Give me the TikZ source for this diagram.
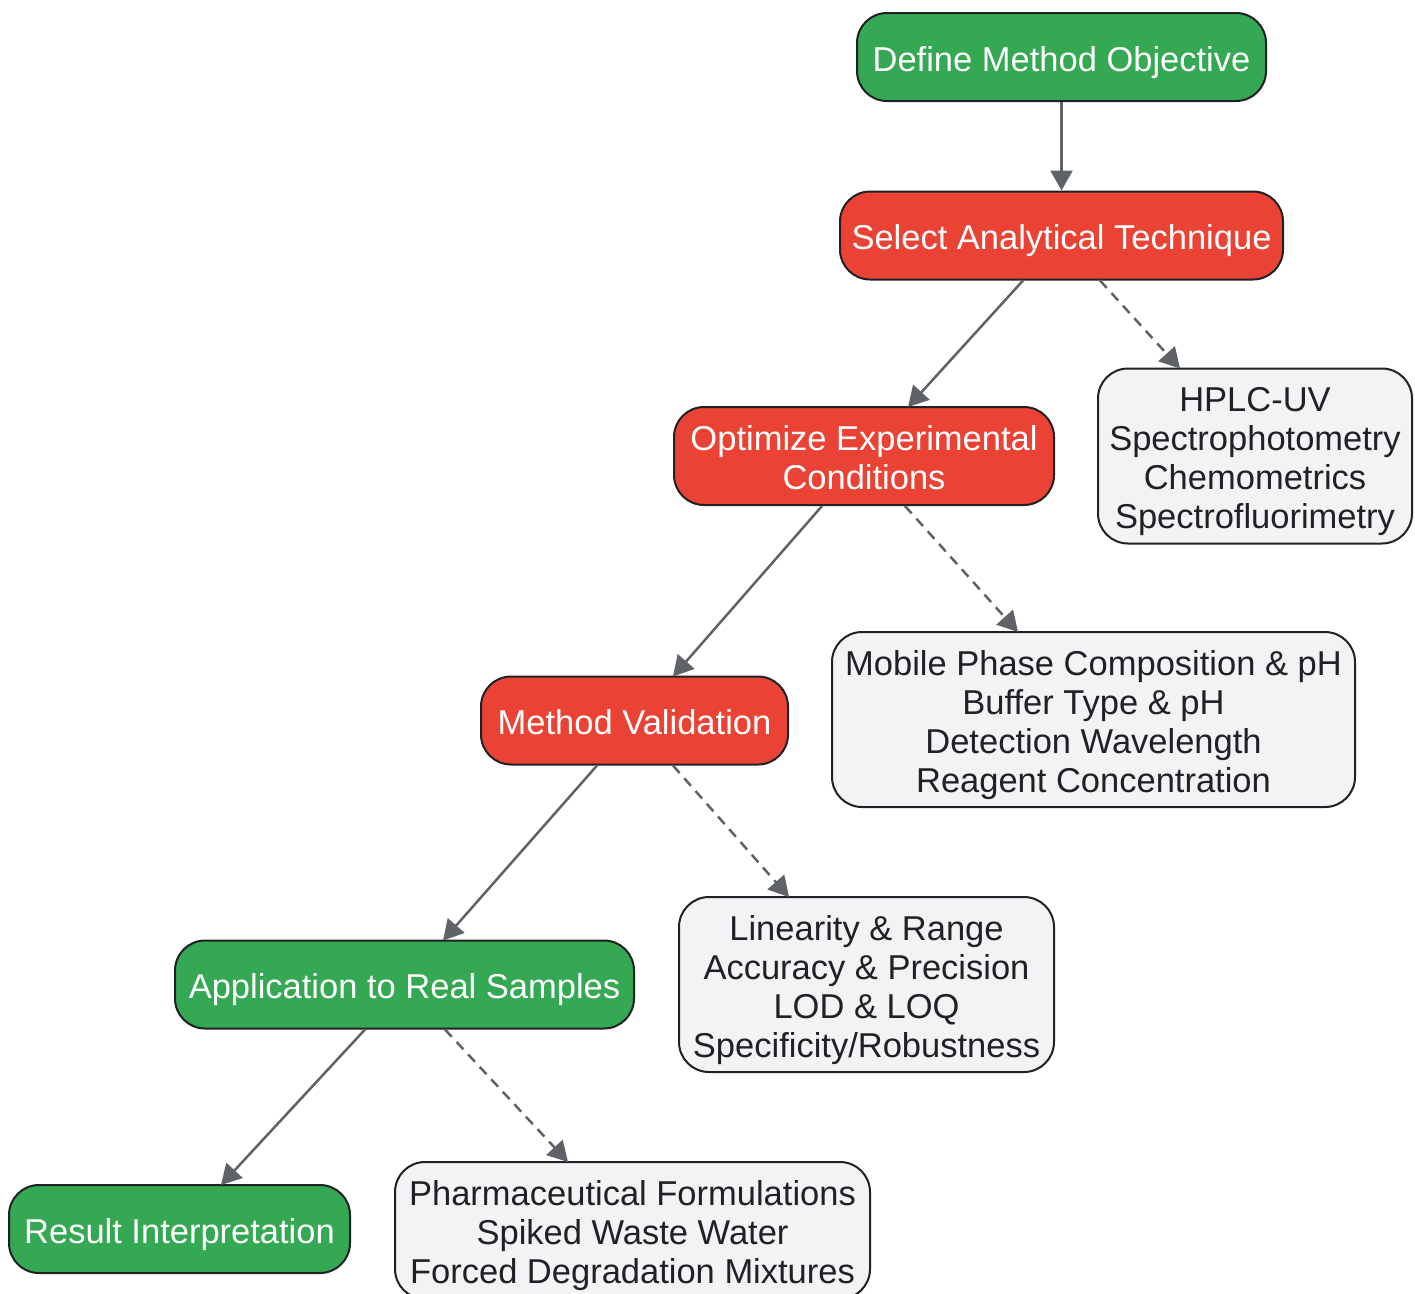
\documentclass[tikz,border=0pt]{standalone}
\usepackage{fontspec}
\setmainfont{Liberation Sans}
\usetikzlibrary{arrows.meta}
\definecolor{gfill}{HTML}{34A853}
\definecolor{rfill}{HTML}{EA4335}
\definecolor{nfill}{HTML}{F1F3F4}
\definecolor{bord}{HTML}{202124}
\definecolor{edgec}{HTML}{5F6368}
\newcommand\mylines[1]{\begin{tabular}{@{}c@{}}\rule{0pt}{40pt}#1\end{tabular}}
\begin{document}
\begin{tikzpicture}[x=1pt,y=-1pt,
  box/.style={draw=bord,line width=2pt,rounded corners=30pt,
    inner xsep=8pt,inner ysep=0pt,font=\fontsize{34.5}{39}\selectfont},
  greenbox/.style={box,fill=gfill,text=white,minimum height=88pt},
  redbox/.style={box,fill=rfill,text=white,minimum height=88pt},
  greybox/.style={box,fill=nfill,text=bord},
  link/.style={draw=edgec,line width=2.5pt,-{Triangle[length=20pt,width=22pt]}},
  dlink/.style={link,dash pattern=on 10pt off 7pt}]
\useasboundingbox (0,0) rectangle (1415,1293);
\node[greenbox,minimum width=409pt] (n1) at (1061.5,57) {\mylines{Define Method Objective}};
\node[redbox,minimum width=443pt] (n2) at (1061.5,235.5) {\mylines{Select Analytical Technique}};
\node[greybox,minimum width=314pt,minimum height=175pt] (n3) at (1255,456) {\mylines{HPLC-UV\\Spectrophotometry\\Chemometrics\\Spectrofluorimetry}};
\node[redbox,minimum width=380pt,minimum height=98pt] (n4) at (864,456) {\mylines{Optimize Experimental\\Conditions}};
\node[greybox,minimum width=523pt,minimum height=175pt] (n5) at (1093.5,719.5) {\mylines{Mobile Phase Composition \& pH\\Buffer Type \& pH\\Detection Wavelength\\Reagent Concentration}};
\node[redbox,minimum width=307pt] (n6) at (634.5,720.5) {\mylines{Method Validation}};
\node[greybox,minimum width=375pt,minimum height=175pt] (n7) at (866.5,984.5) {\mylines{Linearity \& Range\\Accuracy \& Precision\\LOD \& LOQ\\Specificity/Robustness}};
\node[greenbox,minimum width=459pt] (n8) at (404.5,984.5) {\mylines{Application to Real Samples}};
\node[greenbox,minimum width=341pt] (n9) at (179.5,1229) {\mylines{Result Interpretation}};
\node[greybox,minimum width=475pt,minimum height=137pt] (n10) at (632.5,1230.5) {\mylines{Pharmaceutical Formulations\\Spiked Waste Water\\Forced Degradation Mixtures}};
\draw[link] (n1.south) -- (n2.north);
\draw[link] ([xshift=-38.5pt]n2.south) -- ([xshift=44pt,yshift=-1pt]n4.north);
\draw[dlink] ([xshift=38.5pt]n2.south) -- ([xshift=-75pt,yshift=-1pt]n3.north);
\draw[link] ([xshift=-42pt]n4.south) -- ([xshift=38.5pt,yshift=-1pt]n6.north);
\draw[dlink] ([xshift=41pt]n4.south) -- ([xshift=-75.5pt,yshift=-1pt]n5.north);
\draw[link] ([xshift=-37.5pt]n6.south) -- ([xshift=38.5pt,yshift=-1pt]n8.north);
\draw[dlink] ([xshift=38.5pt]n6.south) -- ([xshift=-77.5pt,yshift=-1pt]n7.north);
\draw[link] ([xshift=-39.5pt]n8.south) -- ([xshift=41.5pt,yshift=-1pt]n9.north);
\draw[dlink] ([xshift=40.5pt]n8.south) -- ([xshift=-64.5pt,yshift=-1pt]n10.north);
\end{tikzpicture}
\end{document}
